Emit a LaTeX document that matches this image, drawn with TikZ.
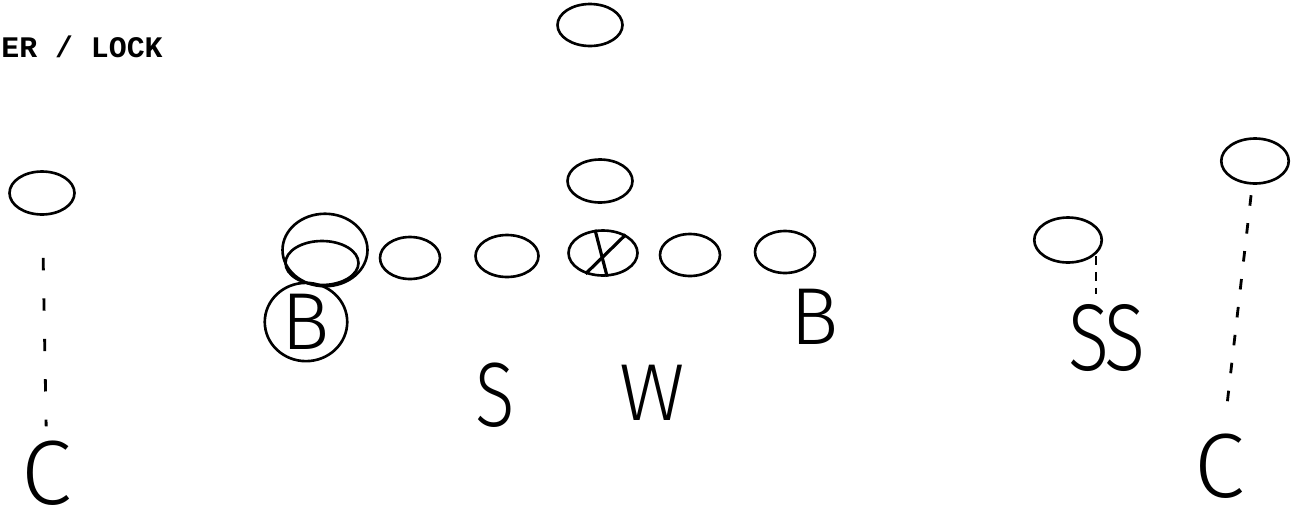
\documentclass[tikz,border=0pt]{standalone}
\usepackage{fontspec}
\usetikzlibrary{shapes.geometric}
\newfontfamily\handfont{Fira Sans Light}
\newfontfamily\handnarrow{Fira Sans Light}[FakeStretch=0.8]
\newfontfamily\typefont{Liberation Mono}

\begin{document}
\begin{tikzpicture}[x=0.02cm, y=-0.02cm,
      plr/.style={ellipse, draw, line width=1.5pt, minimum width=1.3cm,
                  minimum height=0.84cm, inner sep=0pt},
      ltr/.style={inner sep=0pt, font=\handfont\fontsize{52}{52}\selectfont},
      lane/.style={line width=1.6pt, dash pattern=on 6pt off 12pt}]
    \useasboundingbox (0,0) rectangle (1301,511);
    \node[anchor=base west, inner sep=0pt,
          font=\typefont\bfseries\fontsize{17}{17}\selectfont] (title) at (1,57) {ER / LOCK};

    % deep and line
    \node[plr] (fs) at (590,25) {};
    \node[plr, minimum height=0.86cm] (qb) at (600,181) {};
    \node[plr, minimum width=1.38cm, minimum height=0.9cm] (ctr) at (603,253) {};
    \draw[line width=1.8pt] (ctr.109) -- (ctr.-80);
    \draw[line width=1.8pt] (ctr.39) -- (ctr.-130);
    \node[plr, minimum width=1.46cm, minimum height=0.88cm] (te) at (322,263) {};
    \node[ellipse, draw, line width=1.5pt, minimum width=1.7cm,
          minimum height=1.45cm] (ring) at (325,250) {};
    \node[plr, minimum width=1.2cm] (lt) at (410,258) {};
    \node[plr, minimum width=1.26cm] (lg) at (507,256) {};
    \node[plr, minimum width=1.2cm] (rg) at (690,255) {};
    \node[plr, minimum width=1.2cm] (rt) at (785,252) {};

    % backs
    \node[ltr, font=\handfont\fontsize{46}{46}\selectfont, ellipse, draw,
          line width=1.5pt, minimum width=1.65cm, minimum height=1.22cm] (bl) at (306,322) {B};
    \node[ltr, font=\handfont\fontsize{46}{46}\selectfont] (br) at (815,317) {B};
    \node[ltr, font=\handnarrow\fontsize{52}{52}\selectfont] (s) at (495,395) {S};
    \node[ltr, font=\handfont\fontsize{46}{46}\selectfont] (w) at (652,393) {W};

    % wide
    \node[plr, minimum width=1.3cm, minimum height=0.86cm] (lw) at (42,193) {};
    \node[ltr] (lc) at (47,473) {C};
    \node[plr, minimum width=1.35cm, minimum height=0.9cm] (sw) at (1068,240) {};
    \node[ltr, font=\handnarrow\fontsize{54}{54}\selectfont] (ss) at (1107,338) {S\kern-3pt S};
    \node[plr, minimum width=1.35cm, minimum height=0.9cm] (rw) at (1255,161) {};
    \node[ltr] (rc) at (1220,466) {C};

    \draw[lane, dash pattern=on 7pt off 16pt, shorten <=24pt, shorten >=8pt] (lw) -- (lc);
    \draw[lane, dash pattern=on 5pt off 4pt, shorten <=1pt, shorten >=6pt] (sw.-27) -- (sw.-27 |- ss.north);
    \draw[lane, dash pattern=on 6pt off 10pt, shorten <=6pt, shorten >=16pt] (rw) -- (rc);
  \end{tikzpicture}
\end{document}
